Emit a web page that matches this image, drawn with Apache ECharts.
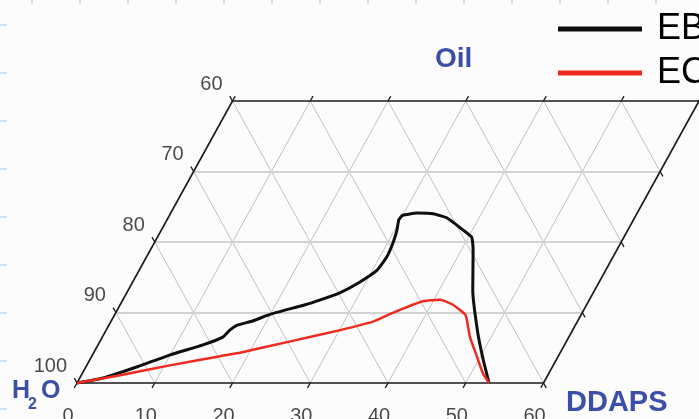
<!DOCTYPE html>
<html><head><meta charset="utf-8">
<script src="https://cdn.jsdelivr.net/npm/echarts@6/dist/echarts.min.js"></script>
<style>html,body{margin:0;padding:0;background:#fcfcfc}#c{width:699px;height:419px}</style>
</head><body><div id="c"></div>
<script>
// Ternary data: DDAPS % (bottom axis), Oil % (top); water = 100 - DDAPS - Oil
const ddapsTicks = [0, 10, 20, 30, 40, 50, 60];
const waterTicks = [100, 90, 80, 70, 60];
const seriesNames = ['EB', 'EC'];
const ebDDAPS = [0, 3.0, 6.6, 10.0, 13.5, 15.5, 15.9, 16.5, 18.2, 20.1, 23.8, 25.4, 27.4, 29.2, 30.6, 30.9, 30.7, 30.3, 29.8, 30.0, 31.7, 33.8, 35.9, 38.3, 40.4, 41.5, 44.3, 48.0, 50.6, 53.0];
const ebOil   = [0, 0.7, 2.3, 4.0, 5.4, 6.5, 7.5, 8.2, 8.8, 9.8, 11.1, 11.8, 12.8, 14.3, 16.0, 17.9, 19.9, 21.7, 23.2, 23.8, 24.1, 24.0, 23.4, 22.0, 20.7, 18.9, 13.2, 7.1, 3.3, 0];
const ecDDAPS = [0, 5.0, 10.7, 16.5, 18.8, 24.5, 30.1, 33.7, 35.4, 37.1, 38.7, 40.8, 42.8, 45.1, 45.7, 47.3, 49.6, 51.5, 53.0];
const ecOil   = [0, 1.1, 2.5, 3.8, 4.3, 5.9, 7.5, 8.7, 9.8, 10.8, 11.6, 11.8, 11.1, 9.7, 8.9, 6.5, 3.7, 1.4, 0];

const D_MAX = 60, O_MAX = 40;
// project (DDAPS, Oil) to the sheared cartesian frame
function P(d, o) { return [d + o / 2, o]; }
function zip(ds, os) { return ds.map((d, i) => P(d, os[i])); }

const BLUE = '#3b4fa6';
const gridH = [], gridD = [], frame = [], ticks = [];
waterTicks.forEach(w => { const o = 100 - w; if (o > 0 && o < O_MAX) gridH.push({coords: [P(0, o), P(D_MAX, o)]}); });
ddapsTicks.forEach(d => { if (d > 0 && d < D_MAX) gridD.push({coords: [P(d, 0), P(d, O_MAX)]}); });
for (let w = 10; w <= 90; w += 10) {
  const s = 100 - w;
  const o1 = Math.max(0, s - D_MAX), o2 = Math.min(O_MAX, s);
  if (o2 > o1) gridD.push({coords: [P(s - o1, o1), P(s - o2, o2)]});
}
frame.push({coords: [P(0, 0), P(D_MAX, 0)]});
frame.push({coords: [P(0, O_MAX), P(D_MAX, O_MAX)]});
frame.push({coords: [P(0, 0), P(0, O_MAX)]});
frame.push({coords: [P(D_MAX, 0), P(D_MAX, O_MAX)]});
const t = 0.7;
ddapsTicks.forEach(d => {
  ticks.push({coords: [P(d, 0), P(d, -t)]});
  ticks.push({coords: [P(d, O_MAX), P(d, O_MAX + t)]});
});
waterTicks.forEach(w => {
  const o = 100 - w;
  ticks.push({coords: [P(0, o), P(-t, o + t)]});
  ticks.push({coords: [P(D_MAX, o), P(D_MAX + t, o - t)]});
});

const bottomLabels = ddapsTicks.map(d => ({name: String(d), value: P(d, 0)}));
const leftLabels = waterTicks.map(w => ({name: String(w), value: P(0, 100 - w)}));

const deco = [];
for (let x = 32; x < 699; x += 48) deco.push({type: 'line', shape: {x1: x, y1: 0, x2: x, y2: 4}, style: {stroke: '#cde4f4', lineWidth: 2}, silent: true});
for (let y = 25; y < 419; y += 48) deco.push({type: 'line', shape: {x1: 0, y1: y, x2: 7, y2: y}, style: {stroke: '#cde4f4', lineWidth: 2}, silent: true});

const FONT = 'Liberation Sans, Arial, sans-serif';
const chart = echarts.init(document.getElementById('c'), null, {renderer: 'canvas'});
chart.setOption({
  backgroundColor: '#fcfcfc',
  animation: false,
  grid: {left: 77, right: 0, top: 101, bottom: 36},
  xAxis: {type: 'value', min: 0, max: D_MAX + O_MAX / 2, show: false},
  yAxis: {type: 'value', min: 0, max: O_MAX, show: false},
  legend: {
    data: seriesNames, orient: 'vertical', left: 553, top: 6,
    itemWidth: 84, itemHeight: 5, itemGap: 8, icon: 'rect',
    textStyle: {fontSize: 36, color: '#000', fontFamily: FONT, padding: [0, 0, 0, 10]}
  },
  graphic: deco.concat([
    {type: 'text', left: 435, top: 45, style: {text: 'Oil', font: 'bold 28px ' + FONT, fill: BLUE}},
    {type: 'text', left: 566, top: 388, style: {text: 'DDAPS', font: 'bold 29px ' + FONT, fill: BLUE}},
    {type: 'text', left: 12, top: 379, style: {text: 'H', font: 'bold 25px ' + FONT, fill: BLUE}},
    {type: 'text', left: 28, top: 397, style: {text: '2', font: 'bold 16px ' + FONT, fill: BLUE}},
    {type: 'text', left: 41, top: 379, style: {text: 'O', font: 'bold 25px ' + FONT, fill: BLUE}}
  ]),
  series: [
    {type: 'lines', coordinateSystem: 'cartesian2d', silent: true, clip: false, data: gridD, lineStyle: {color: '#c2c2c2', width: 1, opacity: 1}},
    {type: 'lines', coordinateSystem: 'cartesian2d', silent: true, clip: false, data: gridH, lineStyle: {color: '#d2d2d2', width: 2, opacity: 1}},
    {type: 'lines', coordinateSystem: 'cartesian2d', silent: true, clip: false, data: frame, lineStyle: {color: '#1a1a1a', width: 1.6, opacity: 1}},
    {type: 'lines', coordinateSystem: 'cartesian2d', silent: true, clip: false, data: ticks, lineStyle: {color: '#1a1a1a', width: 1.3, opacity: 1}},
    {type: 'scatter', silent: true, symbolSize: 0, data: bottomLabels,
      label: {show: true, formatter: '{b}', position: 'inside', offset: [-9, 33], align: 'center', verticalAlign: 'middle', fontSize: 20, color: '#1a1a1a', fontFamily: FONT}},
    {type: 'scatter', silent: true, symbolSize: 0, data: leftLabels,
      label: {show: true, formatter: '{b}', position: 'inside', offset: [-10, -17], align: 'right', verticalAlign: 'middle', fontSize: 20, color: '#1a1a1a', fontFamily: FONT}},
    {name: 'EB', type: 'line', data: zip(ebDDAPS, ebOil), showSymbol: false, clip: false, smooth: 0.15,
      itemStyle: {color: '#0f0f0f'}, lineStyle: {color: '#0f0f0f', width: 3}},
    {name: 'EC', type: 'line', data: zip(ecDDAPS, ecOil), showSymbol: false, clip: false, smooth: 0.15,
      itemStyle: {color: '#f02a1e'}, lineStyle: {color: '#f02a1e', width: 2.5}}
  ]
});
</script></body></html>
